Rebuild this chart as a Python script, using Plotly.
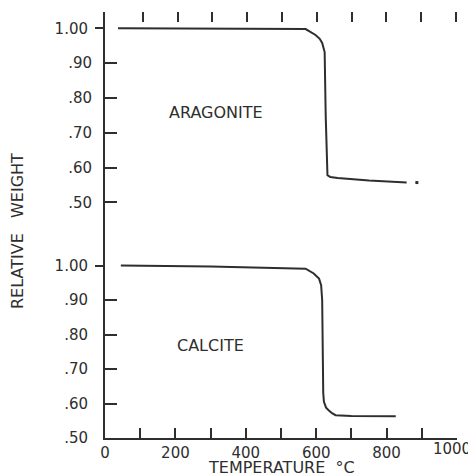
import plotly.graph_objects as go

# ---- data ----
arag_temp = [37, 300, 570, 598, 610, 617, 624, 627, 630, 632, 640, 661, 750, 840, 857]
arag_wt = [1.000, 0.999, 0.998, 0.981, 0.970, 0.958, 0.932, 0.75, 0.59, 0.578, 0.573, 0.570, 0.563, 0.558, 0.557]
arag_dot_temp = [886]
arag_dot_wt = [0.557]

calc_temp = [45, 300, 570, 593, 608, 614, 617, 618, 620, 622, 628, 636, 645, 655, 700, 826]
calc_wt = [1.000, 0.997, 0.991, 0.977, 0.962, 0.943, 0.90, 0.668, 0.63, 0.605, 0.588, 0.580, 0.572, 0.566, 0.564, 0.563]

x_ticks = list(range(0, 1001, 100))
x_ticktext = ["0", "", "200", "", "400", "", "600", "", "800", "", ""]
x_end_tick = [1000]
x_end_ticktext = ["1000"]
y_ticks = [0.5, 0.6, 0.7, 0.8, 0.9]
y_ticktext = [".50", ".60", ".70", ".80", ".90"]
top_tick = [1.0]
top_ticktext = ["1.00"]

INK = "#2e2e2e"
FONT = "DejaVu Sans"

fig = go.Figure()
fig.add_trace(go.Scatter(x=calc_temp, y=calc_wt, mode="lines", xaxis="x", yaxis="y",
                         line=dict(color=INK, width=2), hoverinfo="skip", showlegend=False))
fig.add_trace(go.Scatter(x=arag_temp, y=arag_wt, mode="lines", xaxis="x", yaxis="y2",
                         line=dict(color=INK, width=2), hoverinfo="skip", showlegend=False))
fig.add_trace(go.Scatter(x=arag_dot_temp, y=arag_dot_wt, mode="markers", xaxis="x", yaxis="y2",
                         marker=dict(color=INK, size=3, symbol="square"), hoverinfo="skip", showlegend=False))
# empty traces so the helper axes are drawn
fig.add_trace(go.Scatter(x=[], y=[], xaxis="x", yaxis="y3", showlegend=False))
fig.add_trace(go.Scatter(x=[], y=[], xaxis="x", yaxis="y4", showlegend=False))
fig.add_trace(go.Scatter(x=[], y=[], xaxis="x2", yaxis="y", showlegend=False))
fig.add_trace(go.Scatter(x=[], y=[], xaxis="x3", yaxis="y", showlegend=False))

bottom_range = [0.5, 1.735]
top_range = [-0.177, 1.047]

ytickfont = dict(family=FONT, size=15, color=INK)
xtickfont = dict(family=FONT, size=15, color=INK)

# page body has an 8px margin, so the 468x468 figure sits at (8, 8)
fig.update_layout(
    width=468, height=468, autosize=False,
    margin=dict(l=97, r=19, t=4, b=38),
    paper_bgcolor="white", plot_bgcolor="white",
    font=dict(family=FONT, color=INK),
    xaxis=dict(range=[0, 1000], tickmode="array", tickvals=x_ticks, ticktext=x_ticktext,
               ticks="inside", ticklen=10, tickwidth=2, tickcolor=INK,
               showline=True, linewidth=2, linecolor=INK, showgrid=False, zeroline=False,
               tickfont=xtickfont, automargin=False, ticklabeloverflow="allow",
               ticklabelstandoff=0),
    xaxis3=dict(overlaying="x", side="bottom", anchor="y", range=[0, 1000], tickmode="array",
                tickvals=x_end_tick, ticktext=x_end_ticktext, ticks="", ticklabelshift=-5,
                ticklabelstandoff=0, ticklabeloverflow="allow", tickfont=xtickfont,
                showline=False, showgrid=False, zeroline=False, automargin=False),
    xaxis2=dict(overlaying="x", side="top", anchor="y", range=[-8.5, 1003], tickmode="array",
                tickvals=x_ticks[1:], ticks="inside", ticklen=10, tickwidth=2, tickcolor=INK,
                showticklabels=False, showline=False, showgrid=False, zeroline=False),
    yaxis=dict(range=bottom_range, tickmode="array", tickvals=y_ticks, ticktext=y_ticktext,
               ticks="inside", ticklen=12, tickwidth=2, tickcolor=INK, ticklabelstandoff=12,
               showline=True, linewidth=2, linecolor=INK, showgrid=False, zeroline=False,
               tickfont=ytickfont, automargin=False),
    yaxis2=dict(overlaying="y", anchor="x", side="left", range=top_range, tickmode="array",
                tickvals=y_ticks, ticktext=y_ticktext,
                ticks="inside", ticklen=12, tickwidth=2, tickcolor=INK, ticklabelstandoff=12,
                showline=False, showgrid=False, zeroline=False, tickfont=ytickfont, automargin=False),
    yaxis3=dict(overlaying="y", anchor="x", side="left", range=bottom_range, tickmode="array",
                tickvals=top_tick, ticktext=top_ticktext,
                ticks="outside", ticklen=9, tickwidth=2, tickcolor=INK, ticklabelstandoff=4,
                showline=False, showgrid=False, zeroline=False, tickfont=ytickfont, automargin=False),
    yaxis4=dict(overlaying="y", anchor="x", side="left", range=top_range, tickmode="array",
                tickvals=top_tick, ticktext=top_ticktext,
                ticks="outside", ticklen=9, tickwidth=2, tickcolor=INK, ticklabelstandoff=4,
                showline=False, showgrid=False, zeroline=False, tickfont=ytickfont, automargin=False),
    annotations=[
        dict(text="ARAGONITE", x=316, y=0.757, xref="x", yref="y2", showarrow=False,
             font=dict(family=FONT, size=16, color=INK)),
        dict(text="CALCITE", x=299, y=0.769, xref="x", yref="y", showarrow=False,
             font=dict(family=FONT, size=16, color=INK)),
        dict(text="TEMPERATURE  °C", x=0.5, y=-0.0704, xref="paper", yref="paper",
             xanchor="center", yanchor="middle", showarrow=False,
             font=dict(family=FONT, size=16, color=INK)),
        dict(text="RELATIVE   WEIGHT", x=-0.247, y=0.486, xref="paper", yref="paper",
             xanchor="center", yanchor="middle",
             textangle=-90, showarrow=False, font=dict(family=FONT, size=16, color=INK)),
    ],
)

fig.write_html("out.html")
